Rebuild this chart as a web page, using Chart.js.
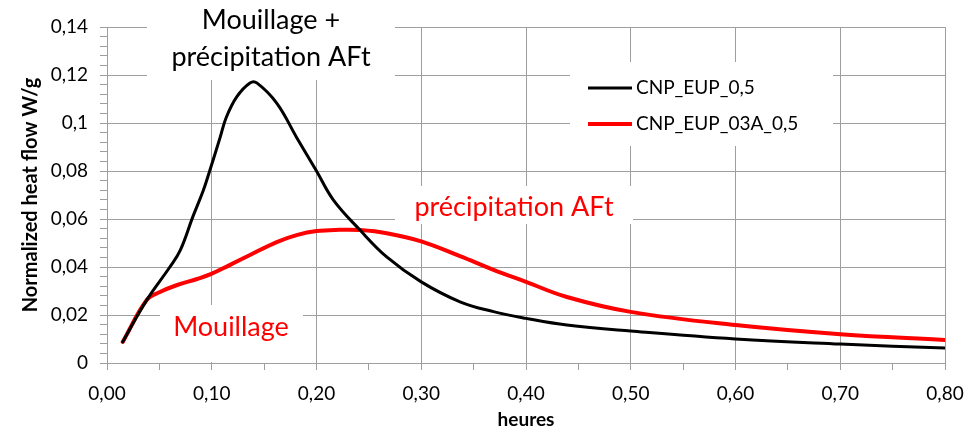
<!DOCTYPE html>
<html>
<head>
<meta charset="utf-8">
<script src="https://cdn.jsdelivr.net/npm/chart.js@4/dist/chart.umd.min.js"></script>
<style>
  html, body { margin: 0; padding: 0; background: #fff; }
  #wrap { width: 978px; height: 433px; }
</style>
</head>
<body>
<div id="wrap"><canvas id="c" width="978" height="433"></canvas></div>
<script>
const FONT = 'Lato, "Open Sans", sans-serif';
const GRID = '#9e9e9e';

// series
const SERIES_NAMES = ['CNP_EUP_0,5', 'CNP_EUP_03A_0,5'];
const refX = [0.015, 0.038, 0.060, 0.070, 0.082, 0.092, 0.098, 0.108, 0.114, 0.124, 0.1365, 0.143, 0.162, 0.181, 0.200, 0.216, 0.2415, 0.267, 0.300, 0.337, 0.369, 0.400, 0.439, 0.500, 0.600, 0.700, 0.800];
const refY = [0.0088, 0.0263, 0.040, 0.047, 0.061, 0.072, 0.080, 0.094, 0.1025, 0.111, 0.1167, 0.1167, 0.1083, 0.094, 0.080, 0.068, 0.0554, 0.0442, 0.0338, 0.0255, 0.0214, 0.0186, 0.0158, 0.0133, 0.010, 0.0079, 0.0062];
const addX = [0.015, 0.038, 0.0506, 0.067, 0.086, 0.099, 0.117, 0.1365, 0.162, 0.181, 0.200, 0.222, 0.2415, 0.267, 0.300, 0.337, 0.369, 0.400, 0.439, 0.500, 0.600, 0.700, 0.800];
const addY = [0.0088, 0.0263, 0.0296, 0.0325, 0.0350, 0.0370, 0.0408, 0.045, 0.0504, 0.0533, 0.055, 0.0555, 0.0554, 0.0541, 0.0507, 0.0445, 0.0388, 0.0338, 0.0275, 0.0213, 0.0158, 0.012, 0.0096];

const pts = (xs, ys) => xs.map((x, i) => ({ x, y: ys[i] }));
const comma = s => s.replace('.', ',');

// white label boxes (cover gridlines) and texts
const notes = [
  { lines: ['Mouillage +', 'précipitation AFt'], color: '#000', box: [147, 0, 395, 80], cx: 271, ys: [20, 57] },
  { lines: ['Mouillage'], color: '#ff0000', box: [160, 305, 303, 362], cx: 231, ys: [327] },
  { lines: ['précipitation AFt'], color: '#ff0000', box: [395, 186, 633, 224], cx: 514, ys: [207] },
];

const annot = {
  id: 'annot',
  beforeDatasetsDraw(chart) {
    const ctx = chart.ctx;
    ctx.save();
    ctx.fillStyle = '#fff';
    for (const n of notes) {
      const [x1, y1, x2, y2] = n.box;
      ctx.fillRect(x1, y1, x2 - x1, y2 - y1);
    }
    ctx.fillRect(570, 62, 263, 84); // legend box
    ctx.restore();
  },
  afterDraw(chart) {
    const ctx = chart.ctx;
    ctx.save();
    ctx.textAlign = 'center';
    ctx.textBaseline = 'middle';
    ctx.font = '27px ' + FONT;
    for (const n of notes) {
      ctx.fillStyle = n.color;
      n.lines.forEach((t, i) => ctx.fillText(t, n.cx, n.ys[i]));
    }
    // legend
    ctx.textAlign = 'left';
    ctx.font = '19px ' + FONT;
    chart.data.datasets.forEach((ds, i) => {
      const y = 88 + i * 36;
      ctx.strokeStyle = ds.borderColor;
      ctx.lineWidth = ds.borderWidth;
      ctx.beginPath();
      ctx.moveTo(588, y);
      ctx.lineTo(632, y);
      ctx.stroke();
      ctx.fillStyle = '#000';
      ctx.fillText(ds.label, 636, y);
    });
    ctx.restore();
  }
};

const lineStyle = { pointRadius: 0, tension: 0.4, fill: false, borderCapStyle: 'round', borderJoinStyle: 'round' };

new Chart(document.getElementById('c'), {
  type: 'line',
  data: {
    datasets: [
      { ...lineStyle, label: SERIES_NAMES[0], data: pts(refX, refY), borderColor: '#000', borderWidth: 3 },
      { ...lineStyle, label: SERIES_NAMES[1], data: pts(addX, addY), borderColor: '#ff0000', borderWidth: 4 },
    ],
  },
  options: {
    responsive: false,
    animation: false,
    layout: { padding: { top: 27, right: 33, left: 0, bottom: 0 } },
    plugins: { legend: { display: false }, tooltip: { enabled: false } },
    scales: {
      x: {
        type: 'linear',
        min: 0, max: 0.8,
        afterFit(s) { s.height = 70; },
        ticks: {
          stepSize: 0.05, autoSkip: false, maxRotation: 0, padding: 12,
          color: '#000', font: { family: FONT, size: 19 },
          callback: v => Math.round(v * 100) % 10 === 0 ? comma(v.toFixed(2)) : '',
        },
        grid: {
          color: c => Math.round(c.tick.value * 100) % 10 === 0 ? GRID : 'transparent',
          tickColor: GRID, tickLength: 7,
        },
        border: { color: GRID },
        title: { display: true, text: 'heures', color: '#000', font: { family: FONT, size: 19, weight: 'bold' }, padding: { top: 0, bottom: 2 } },
      },
      y: {
        min: 0, max: 0.14,
        afterFit(s) { s.width = 107; },
        ticks: {
          stepSize: 0.004, autoSkip: false, padding: 12,
          color: '#000', font: { family: FONT, size: 19 },
          callback: v => Math.round(v * 1000) % 20 === 0 ? comma(String(Math.round(v * 100) / 100)) : '',
        },
        grid: {
          color: c => Math.round(c.tick.value * 1000) % 20 === 0 ? GRID : 'transparent',
          tickColor: GRID, tickLength: 7,
        },
        border: { color: GRID },
        title: { display: true, text: 'Normalized heat flow W/g', color: '#000', font: { family: FONT, size: 20, weight: 'bold' }, padding: { top: 19, bottom: 0 } },
      },
    },
  },
  plugins: [annot],
});
</script>
</body>
</html>
